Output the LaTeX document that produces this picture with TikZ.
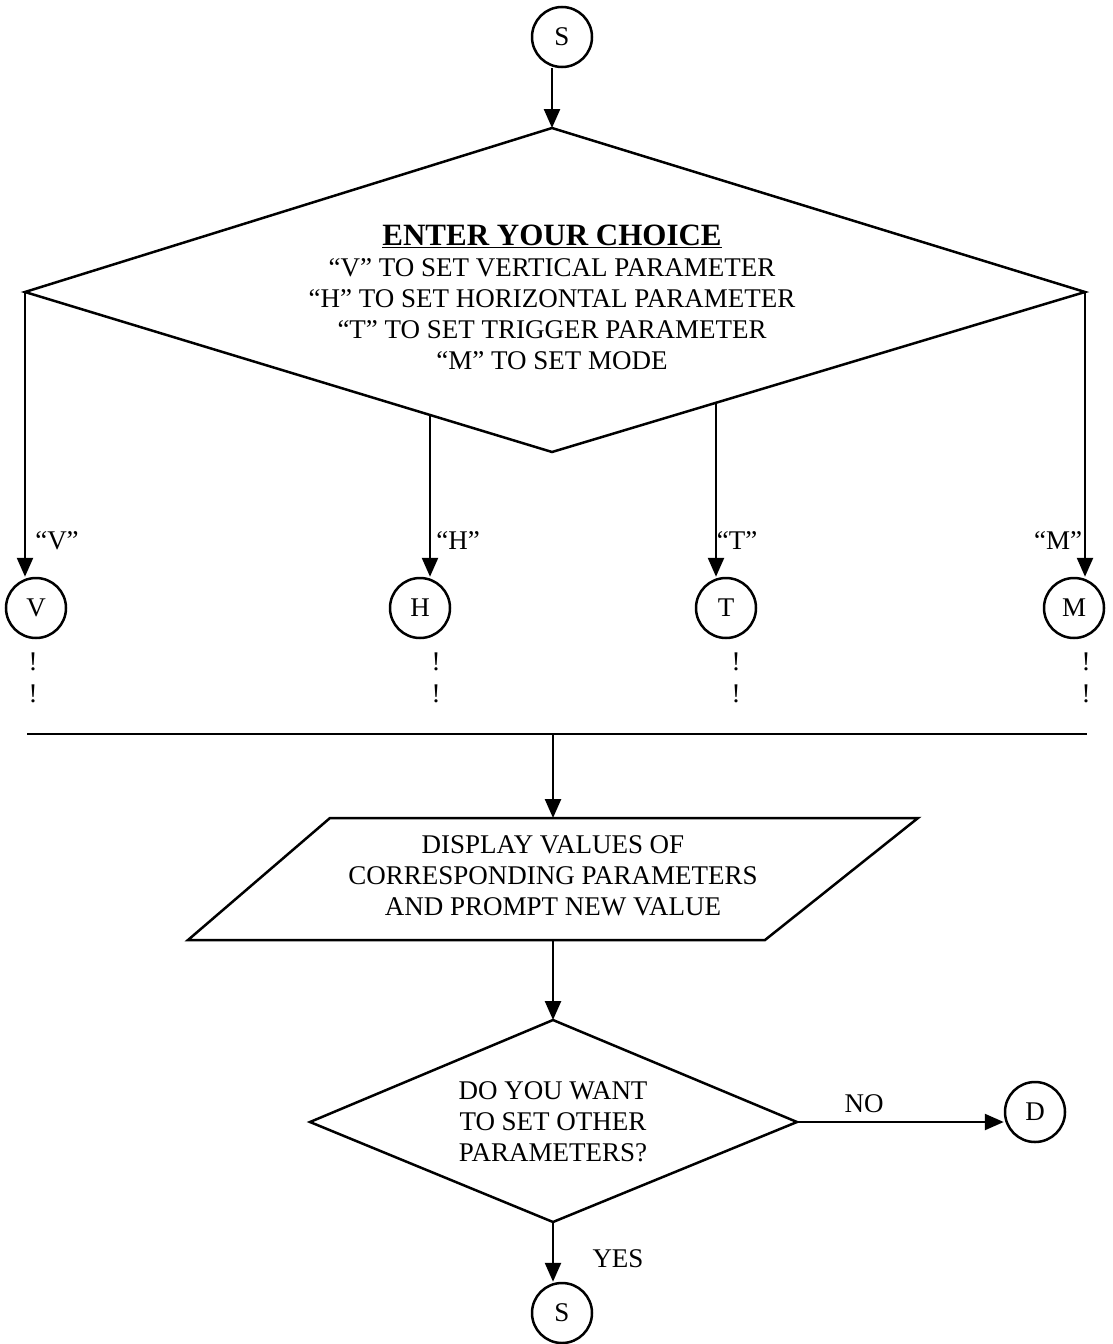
\documentclass[tikz,border=0pt]{standalone}
\usepackage{fontspec}
\setmainfont{Liberation Serif}
\usetikzlibrary{arrows.meta,calc}
\tikzset{
  conn/.style={line width=2.5pt,-{Triangle[length=19pt,width=16pt]}},
  plain/.style={line width=2.5pt},
  shapeline/.style={line width=2.5pt,line join=miter},
  term/.style={circle,draw,line width=2.5pt,minimum size=60pt,inner sep=0pt,font=\fontsize{27}{31}\selectfont},
  txt/.style={font=\fontsize{27}{31}\selectfont,align=center,inner sep=0pt},
  bang/.style={font=\fontsize{27}{31}\selectfont,inner sep=0pt}
}
\begin{document}
\begin{tikzpicture}[x=1pt,y=-1pt]
\useasboundingbox (0,0) rectangle (1113,1344);
% top terminal
\node[term] (S1) at (562,37) {S};
% big decision diamond
\coordinate (Dt) at (552,128);
\coordinate (Dl) at (25,292);
\coordinate (Dr) at (1085,292);
\coordinate (Db) at (552,452);
\draw[shapeline] (Dt) -- (Dr) -- (Db) -- (Dl) -- cycle;
\node[txt] (choice) at (552,297) {{\fontsize{31}{34}\selectfont\underline{\textbf{ENTER YOUR CHOICE}}}\\
“V” TO SET VERTICAL PARAMETER\\
“H” TO SET HORIZONTAL PARAMETER\\
“T” TO SET TRIGGER PARAMETER\\
“M” TO SET MODE};
\draw[conn] (S1.south -| Dt) -- (Dt);
% branch points on the lower edges
\coordinate (Hs) at (430,415);
\coordinate (Ts) at (716,403);
% connectors
\node[term] (V) at (36,608) {V};
\node[term] (H) at (420,608) {H};
\node[term] (T) at (726,608) {T};
\node[term] (M) at (1074,608) {M};
\draw[conn] (Dl) -- (Dl |- V.north);
\draw[conn] (Hs) -- (Hs |- H.north);
\draw[conn] (Ts) -- (Ts |- T.north);
\draw[conn] (Dr) -- (Dr |- M.north);
\node[txt] (lv) at (57,541) {“V”};
\node[txt] (lh) at (458,541) {“H”};
\node[txt] (lt) at (737,541) {“T”};
\node[txt] (lm) at (1058,541) {“M”};
% exclamation marks
\foreach \n/\x in {a/33,b/436,c/736,d/1086}{
  \node[bang] (e1\n) at (\x,662) {!};
  \node[bang] (e2\n) at (\x,694) {!};
}
% collecting line
\coordinate (Ja) at (27,734);
\coordinate (Jb) at (1087,734);
\coordinate (Jm) at (553,734);
\draw[plain] (Ja) -- (Jb);
% parallelogram
\coordinate (Pa) at (330,818);
\coordinate (Pb) at (918,818);
\coordinate (Pc) at (765,940);
\coordinate (Pd) at (188,940);
\coordinate (Pt) at (553,818);
\coordinate (Pbm) at (553,940);
\draw[shapeline] (Pa) -- (Pb) -- (Pc) -- (Pd) -- cycle;
\node[txt] (disp) at (553,876) {DISPLAY VALUES OF\\CORRESPONDING PARAMETERS\\AND PROMPT NEW VALUE};
\draw[conn] (Jm) -- (Pt);
% second decision
\coordinate (Et) at (553,1020);
\coordinate (El) at (310,1122);
\coordinate (Er) at (797,1122);
\coordinate (Eb) at (553,1222);
\draw[shapeline] (Et) -- (Er) -- (Eb) -- (El) -- cycle;
\node[txt] (ask) at (553,1122) {DO YOU WANT\\TO SET OTHER\\PARAMETERS?};
\draw[conn] (Pbm) -- (Et);
% NO branch
\node[term] (D) at (1035,1112) {D};
\draw[conn] (Er) -- (D.west |- Er);
\node[txt] (no) at (864,1104) {NO};
% YES branch
\node[term] (S2) at (562,1313) {S};
\draw[conn] (Eb) -- (Eb |- S2.north);
\node[txt] (yes) at (618,1259) {YES};
\end{tikzpicture}
\end{document}
